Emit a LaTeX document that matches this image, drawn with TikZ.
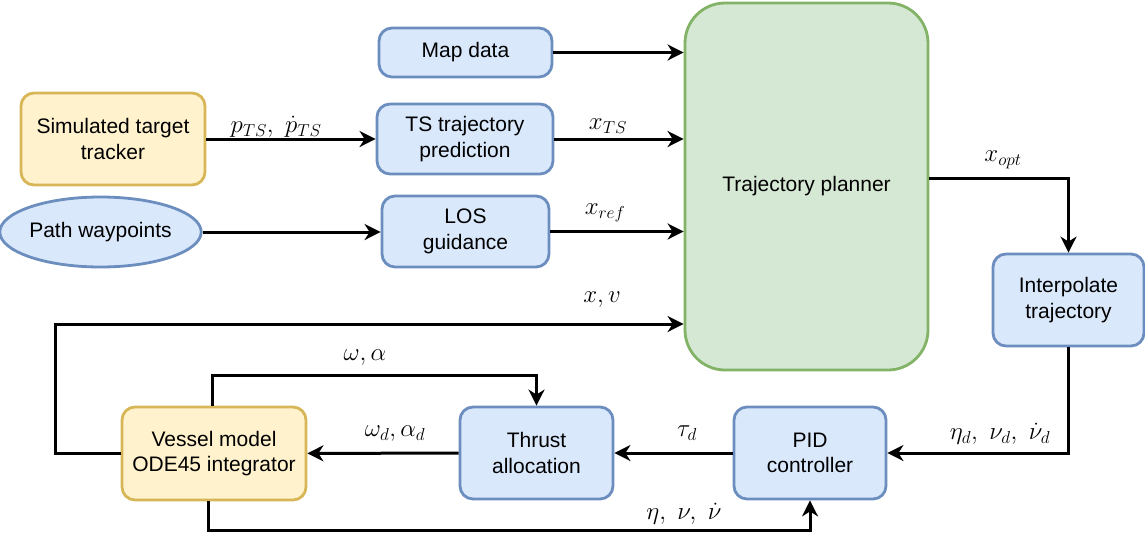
\documentclass[tikz,border=0pt]{standalone}
\usepackage{fontspec}
\setmainfont{Liberation Sans}
\usetikzlibrary{arrows.meta,shapes.geometric}
\definecolor{bfill}{HTML}{DAE8FC}
\definecolor{bdraw}{HTML}{6C8EBF}
\definecolor{yfill}{HTML}{FFF2CC}
\definecolor{ydraw}{HTML}{D6B656}
\definecolor{gfill}{HTML}{D5E8D4}
\definecolor{gdraw}{HTML}{82B366}
\begin{document}
\begin{tikzpicture}[x=1pt,y=-1pt,
  base/.style={line width=2.8pt,align=center,inner sep=0pt,font=\fontsize{21}{25.5}\selectfont},
  box/.style={base,draw=bdraw,fill=bfill,rounded corners=13pt},
  ybox/.style={base,draw=ydraw,fill=yfill,rounded corners=13pt},
  gbox/.style={base,draw=gdraw,fill=gfill,rounded corners=40pt},
  ell/.style={base,ellipse,draw=bdraw,fill=bfill},
  arr/.style={line width=3pt,-{Stealth[length=16pt,width=16pt,inset=5pt]}},
  lab/.style={font=\fontsize{26}{30}\selectfont,inner sep=0pt}
]
\useasboundingbox (0,0) rectangle (1145,536);

\node[box,minimum width=173pt,minimum height=49pt] (map) at (465.5,52.5) {Map data};
\node[ybox,minimum width=184pt,minimum height=92pt] (sim) at (113,139) {Simulated target\\tracker};
\node[ell,minimum width=185pt,minimum height=70pt] (wp) at (100.5,232) {Path waypoints};
\node[box,minimum width=176pt,minimum height=70pt] (ts) at (465,139) {TS trajectory\\prediction};
\node[box,minimum width=167pt,minimum height=71pt] (los) at (465.5,231.5) {LOS\\guidance};
\node[gbox,minimum width=243pt,minimum height=367pt] (plan) at (806.5,186.5) {Trajectory planner};
\node[box,minimum width=151pt,minimum height=92pt] (interp) at (1068.5,300) {Interpolate\\trajectory};
\node[ybox,minimum width=184pt,minimum height=93pt] (ves) at (214,453.5) {Vessel model\\ODE45 integrator};
\node[box,minimum width=153pt,minimum height=92pt] (thr) at (536.5,453) {Thrust\\allocation};
\node[box,minimum width=152pt,minimum height=92pt] (pid) at (810,453) {PID\\controller};

\coordinate (xvc) at (55,324);
\coordinate (xopt) at (1070,178);

\draw[arr] (map) -- (map -| plan.west);
\draw[arr] (sim) -- (ts);
\draw[arr] (ts) -- (ts -| plan.west);
\draw[arr] (wp) -- (wp -| los.west);
\draw[arr] (los) -- (los -| plan.west);
\draw[arr] (ves.west) -| (xvc) -- (xvc -| plan.west);
\draw[arr] (xopt -| plan.east) -| (interp.north);
\draw[arr] (interp.south) |- (pid.east);
\draw[arr] (pid) -- (thr);
\draw[arr] (thr) -- (ves);
\draw[arr] ([xshift=-2pt]ves.north) -- ++(0,-30) -| (thr.north);
\draw[arr] ([xshift=-6pt]ves.south) -- ++(0,29) -| (pid.south);

\node[lab] (l1) at (276,127) {$p_{TS},\ \dot p_{TS}$};
\node[lab] (l2) at (608,126) {$x_{TS}$};
\node[lab] (l3) at (605,213) {$x_{ref}$};
\node[lab] (l4) at (602,300) {$x, v$};
\node[lab] (l5) at (1003,160) {$x_{opt}$};
\node[lab] (l6) at (1000,434) {$\eta_d,\ \nu_d,\ \dot\nu_d$};
\node[lab] (l7) at (687,433) {$\tau_d$};
\node[lab] (l8) at (395,434) {$\omega_d, \alpha_d$};
\node[lab] (l9) at (365,358) {$\omega, \alpha$};
\node[lab] (l10) at (684,514) {$\eta,\ \nu,\ \dot\nu$};
\end{tikzpicture}
\end{document}
